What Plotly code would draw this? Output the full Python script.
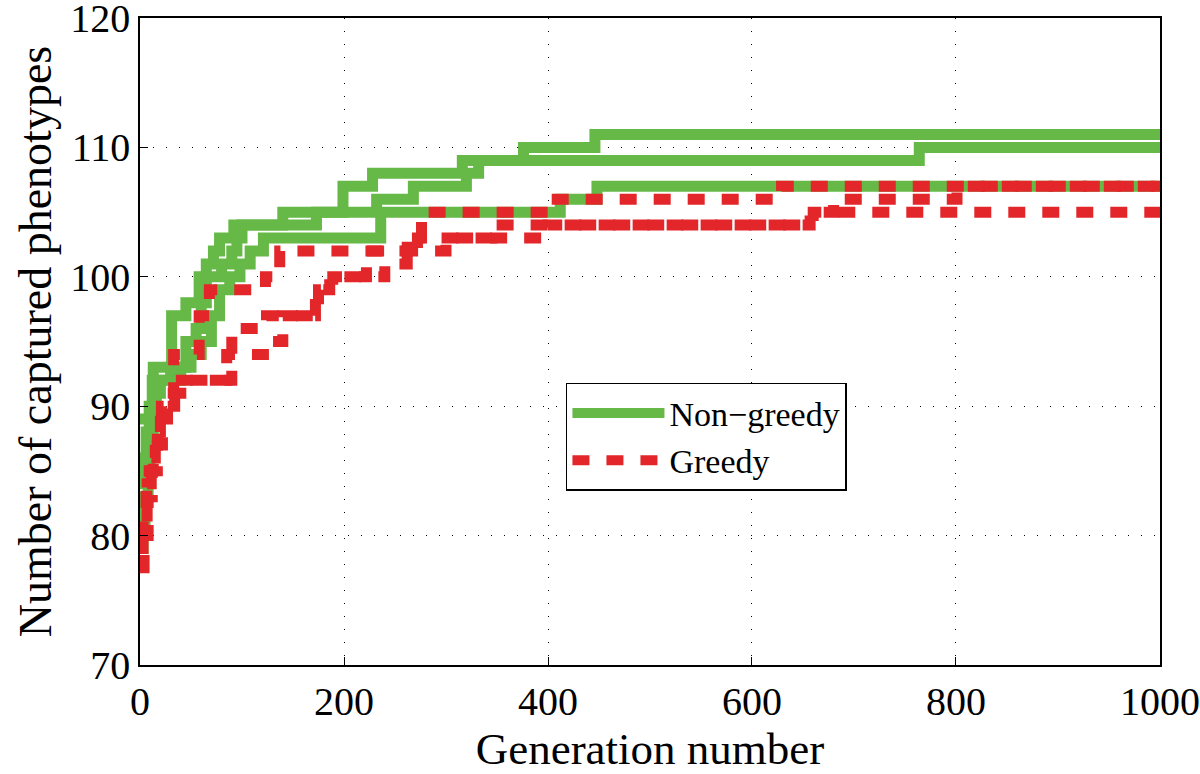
import plotly.graph_objects as go

# Non-greedy runs (step points: generation, captured phenotypes)
green_a_gen = [0, 13, 31, 45, 58, 65, 72, 78, 92, 140, 199, 228, 316, 376, 446, 1000]
green_a_val = [89, 93, 97, 98, 100, 101, 102, 103, 104, 105, 107, 108, 109, 110, 111, 111]

green_b_gen = [0, 3, 6, 9, 12, 30, 45, 55, 60, 65, 80, 90, 95, 100, 173, 232, 268, 320, 332, 764, 1000]
green_b_val = [84, 86, 88, 90, 92, 93, 95, 96, 98, 100, 101, 102, 103, 104, 105, 106, 107, 108, 109, 110, 110]

green_c_gen = [0, 3, 5, 8, 10, 13, 16, 20, 40, 50, 60, 70, 78, 88, 98, 108, 121, 236, 412, 448, 1000]
green_c_val = [79, 81, 83, 85, 87, 89, 91, 92, 93, 94, 95, 97, 99, 100, 101, 102, 103, 105, 106, 107, 107]

# Greedy runs
red_a_gen = [0, 3, 6, 9, 13, 17, 21, 26, 33, 58, 68, 123, 137, 262, 276, 402, 629, 1000]
red_a_val = [80, 82, 84, 85, 86, 88, 90, 91, 94, 97, 99, 100, 102, 103, 105, 106, 107, 107]

red_b_gen = [0, 3, 7, 11, 15, 20, 34, 85, 121, 140, 172, 186, 240, 262, 272, 345, 657, 680, 801, 1000]
red_b_val = [79, 81, 84, 86, 88, 90, 92, 94, 95, 97, 99, 100, 101, 102, 103, 104, 105, 106, 107, 107]

red_c_gen = [0, 4, 8, 12, 17, 22, 27, 40, 90, 124, 175, 189, 222, 300, 400, 660, 1000]
red_c_val = [77.5, 80, 83, 85, 87, 89, 91, 92, 96, 97, 99, 100, 102, 103, 104, 105, 105]

x_ticks = [0, 200, 400, 600, 800, 1000]
y_ticks = [70, 80, 90, 100, 110, 120]

GREEN = "#66b947"
RED = "#e2262a"
FONT = "Liberation Serif"

fig = go.Figure()

greens = [(green_a_gen, green_a_val), (green_b_gen, green_b_val), (green_c_gen, green_c_val)]
reds = [(red_a_gen, red_a_val), (red_b_gen, red_b_val), (red_c_gen, red_c_val)]

for i, (gx, gy) in enumerate(greens):
    fig.add_trace(go.Scatter(
        x=gx, y=gy, mode="lines", line_shape="hv",
        line=dict(color=GREEN, width=11),
        name="Non\u2212greedy", legendgroup="ng", showlegend=(i == 0),
    ))

for i, (rx, ry) in enumerate(reds):
    fig.add_trace(go.Scatter(
        x=rx, y=ry, mode="lines", line_shape="hv",
        line=dict(color=RED, width=11, dash="17px,17px"),
        name="Greedy", legendgroup="g", showlegend=(i == 0),
    ))

axis_common = dict(
    showline=True, mirror=True, linecolor="black", linewidth=1.5,
    ticks="inside", ticklen=8, tickcolor="black", tickwidth=1,
    showgrid=True, gridcolor="black", gridwidth=1.2, griddash="1px,12px",
    zeroline=False, automargin=False, ticklabeloverflow="allow",
    tickfont=dict(family=FONT, size=40, color="black"),
)

fig.update_xaxes(range=[0, 1000.01], tickvals=x_ticks, **axis_common,
                 title=dict(text="Generation number", font=dict(family=FONT, size=45, color="black"), standoff=0))
fig.update_yaxes(range=[69.99, 120.01], tickvals=y_ticks, **axis_common,
                 title=dict(text="Number of captured phenotypes", font=dict(family=FONT, size=46, color="black"), standoff=4))

fig.update_layout(
    width=1200, height=774,
    margin=dict(l=140, r=40, t=18, b=109),
    paper_bgcolor="white", plot_bgcolor="white",
    font=dict(family=FONT, color="black"),
    legend=dict(
        x=0.4176, y=0.436, xanchor="left", yanchor="top",
        bgcolor="white", bordercolor="black", borderwidth=1.5,
        font=dict(family=FONT, size=34, color="black"),
        itemwidth=92, tracegroupgap=0,
    ),
)

fig.write_html("out.html", config={"displayModeBar": False},
               post_script="document.body.style.margin='0';")
